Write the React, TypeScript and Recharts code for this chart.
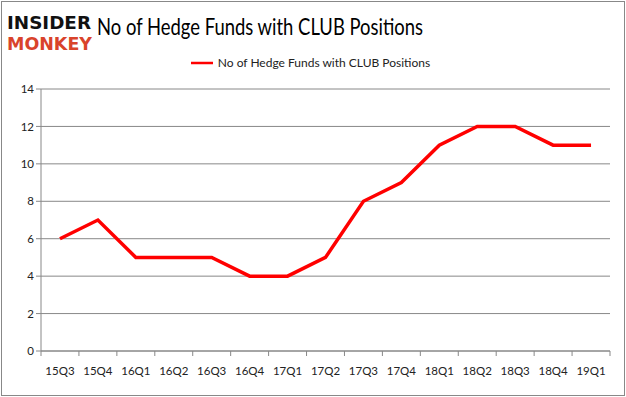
import React from "react";
import { LineChart, Line, XAxis, YAxis, CartesianGrid } from "recharts";

const quarters = ["15Q3","15Q4","16Q1","16Q2","16Q3","16Q4","17Q1","17Q2","17Q3","17Q4","18Q1","18Q2","18Q3","18Q4","19Q1"];
const funds = [6,7,5,5,5,4,4,5,8,9,11,12,12,11,11];
const yTicks = [0,2,4,6,8,10,12,14];
const seriesName = "No of Hedge Funds with CLUB Positions";

const data = quarters.map((q, i) => ({ q, v: funds[i] }));

const W = 626, H = 397;
const LEFT = 41, RIGHT = 16, TOP = 89, BOTTOM = 46;
const FONT = "Lato, 'Open Sans', sans-serif";

const XTick = (props: any) => {
  const { x, y, payload, index } = props;
  const bw = (W - LEFT - RIGHT) / quarters.length;
  const axisY = H - BOTTOM;
  return (
    <g>
      <line x1={x - bw / 2} x2={x - bw / 2} y1={axisY} y2={axisY + 5} stroke="#888" />
      {index === quarters.length - 1 && (
        <line x1={x + bw / 2} x2={x + bw / 2} y1={axisY} y2={axisY + 5} stroke="#888" />
      )}
      <text x={x} y={y + 16} textAnchor="middle" fontSize={11.5} fill="#222" fontFamily={FONT}>
        {payload.value}
      </text>
    </g>
  );
};

export default function App() {
  return (
    <div style={{ position: "absolute", left: 0, top: 0, width: W, height: H, background: "#fff" }}>
      <div style={{ position: "absolute", left: 1, top: 1, width: W - 4, height: H - 4, border: "1px solid #888" }} />
      <svg style={{ position: "absolute", left: 0, top: 0 }} width={W} height={70}>
        <text x={7} y={29} fontFamily="'DejaVu Sans', sans-serif" fontWeight={900} fontSize={17} fill="#111" textLength={84} lengthAdjust="spacingAndGlyphs">INSIDER</text>
        <text x={7} y={50} fontFamily="'DejaVu Sans', sans-serif" fontWeight={900} fontSize={17} fill="#d9432b" textLength={85} lengthAdjust="spacingAndGlyphs">MONKEY</text>
        <text x={97} y={35} fontFamily={FONT} fontSize={23} fill="#000" textLength={326} lengthAdjust="spacingAndGlyphs">{seriesName}</text>
      </svg>
      <div style={{ position: "absolute", left: 0, top: 55, width: W, display: "flex", justifyContent: "center", alignItems: "center", fontFamily: FONT, fontSize: 12, color: "#222" }}>
        <svg width={25} height={10} style={{ marginRight: 3, marginLeft: -6 }}>
          <line x1={1} x2={23} y1={5} y2={5} stroke="#ff0000" strokeWidth={2.5} />
        </svg>
        <span>{seriesName}</span>
      </div>
      <LineChart width={W} height={H} data={data} margin={{ top: TOP, right: RIGHT, bottom: BOTTOM - 30, left: 0 }}>
        <CartesianGrid vertical={false} stroke="#888" strokeWidth={1} />
        <XAxis dataKey="q" scale="band" height={30} axisLine={{ stroke: "#888" }} tickLine={false} tick={<XTick />} interval={0} />
        <YAxis width={LEFT} domain={[0, 14]} ticks={yTicks} axisLine={{ stroke: "#888" }} tickLine={{ stroke: "#888" }} tickSize={5}
          tick={{ fontSize: 11.5, fill: "#222", fontFamily: FONT }} />
        <Line dataKey="v" name={seriesName} stroke="#ff0000" strokeWidth={3.5} dot={false} isAnimationActive={false} strokeLinejoin="miter" />
      </LineChart>
    </div>
  );
}
